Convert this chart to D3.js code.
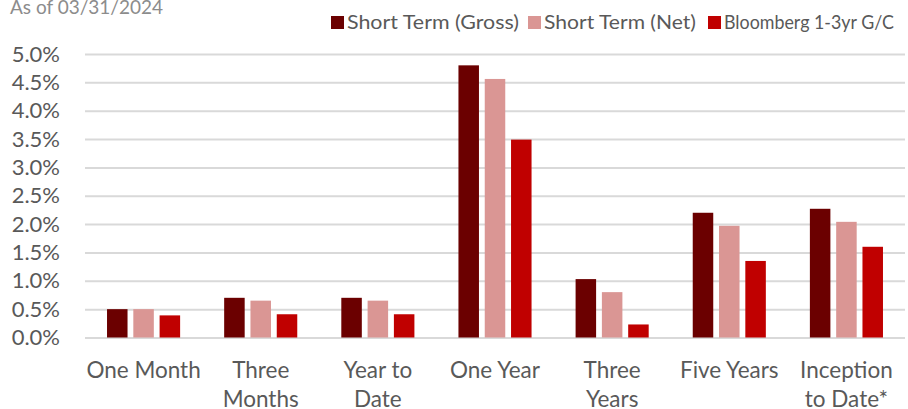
<!DOCTYPE html>
<html>
<head>
<meta charset="utf-8">
<script src="https://cdn.jsdelivr.net/npm/d3@7"></script>
<style>
  body { margin: 0; background: #fff; }
  svg text { font-family: Lato, "Open Sans", sans-serif; }
</style>
</head>
<body>
<div id="chart-area"></div>
<script>
const width = 908,
  height = 409;

const margin = {top: 54, right: 3, bottom: 71, left: 85};

// data
const categories = [["One Month"], ["Three", "Months"], ["Year to", "Date"], ["One Year"],
  ["Three", "Years"], ["Five Years"], ["Inception", "to Date*"]];
const seriesNames = ["Short Term (Gross)", "Short Term (Net)", "Bloomberg 1-3yr G/C"];
const seriesColors = ["#6b0000", "#da9694", "#c00000"];
const gross = [0.50, 0.70, 0.70, 4.80, 1.03, 2.20, 2.27];
const net = [0.50, 0.65, 0.65, 4.56, 0.80, 1.97, 2.04];
const bloomberg = [0.39, 0.41, 0.41, 3.49, 0.23, 1.35, 1.60];
const yTicks = [0, 0.5, 1, 1.5, 2, 2.5, 3, 3.5, 4, 4.5, 5];

const values = [gross, net, bloomberg];
const catKeys = categories.map(c => c.join(" "));

const svg = d3.select("#chart-area")
  .append("svg")
  .attr("width", width)
  .attr("height", height);

const x0 = d3.scaleBand()
  .domain(catKeys)
  .range([margin.left, width - margin.right]);

const x1 = d3.scaleBand()
  .domain(seriesNames)
  .range([x0.bandwidth() * 0.188, x0.bandwidth() * 0.812])
  .paddingInner(0.22);

const y = d3.scaleLinear()
  .domain([0, 5])
  .range([height - margin.bottom - 0.5, margin.top]);

// title
svg.append("text")
  .attr("x", 10)
  .attr("y", 14)
  .attr("font-size", 19)
  .attr("fill", "#8c8c8c")
  .text("As of 03/31/2024");

// gridlines + y labels
const yAxis = g => g
  .attr("transform", `translate(${margin.left},0)`)
  .call(d3.axisLeft(y).tickValues(yTicks).tickFormat(d => d.toFixed(1) + "%")
    .tickSize(-(width - margin.left - margin.right)).tickPadding(25))
  .call(g => g.select(".domain").remove())
  .call(g => g.selectAll(".tick line")
    .attr("stroke", "#d9d9d9")
    .attr("stroke-width", 2))
  .call(g => g.selectAll(".tick text")
    .attr("font-size", 22)
    .attr("fill", "#595959"));

svg.append("g").call(yAxis);

// bars
const groups = svg.append("g")
  .selectAll("g")
  .data(catKeys)
  .join("g")
  .attr("transform", d => `translate(${x0(d)},0)`);

groups.selectAll("rect")
  .data((d, i) => seriesNames.map((s, j) => ({s, v: values[j][i], c: seriesColors[j]})))
  .join("rect")
  .attr("x", d => x1(d.s))
  .attr("width", x1.bandwidth())
  .attr("y", d => y(d.v))
  .attr("height", d => y(0) - y(d.v))
  .attr("fill", d => d.c);

// category labels
const catLabels = svg.append("g")
  .selectAll("text")
  .data(categories)
  .join("text")
  .attr("x", (d, i) => x0(catKeys[i]) + x0.bandwidth() / 2)
  .attr("y", 378)
  .attr("text-anchor", "middle")
  .attr("font-size", 22.5)
  .attr("fill", "#595959");

catLabels.selectAll("tspan")
  .data(d => d)
  .join("tspan")
  .attr("x", function() { return this.parentNode.getAttribute("x"); })
  .attr("dy", (d, i) => i === 0 ? 0 : 29)
  .text(d => d);

// legend (reference text widths differ from Lato, so fit each label)
const legendX = [331, 528, 708];
const legendW = [172, 152, 170];
const legend = svg.append("g")
  .selectAll("g")
  .data(seriesNames)
  .join("g")
  .attr("transform", (d, i) => `translate(${legendX[i]},16)`);

legend.append("rect")
  .attr("width", 13)
  .attr("height", 13)
  .attr("fill", (d, i) => seriesColors[i]);

legend.append("text")
  .attr("x", 16)
  .attr("y", 12.5)
  .attr("font-size", 20)
  .attr("fill", "#595959")
  .attr("textLength", (d, i) => legendW[i])
  .attr("lengthAdjust", "spacingAndGlyphs")
  .text(d => d);
</script>
</body>
</html>
